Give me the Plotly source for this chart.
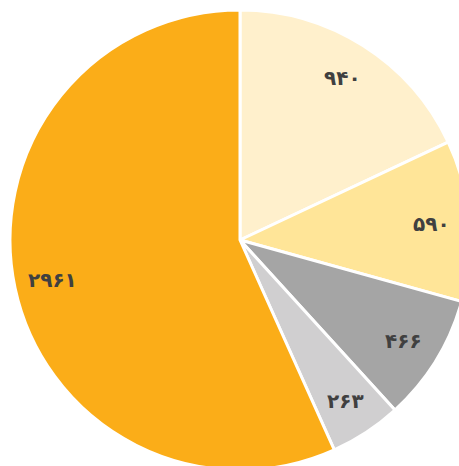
import math
import plotly.graph_objects as go

categories = ["A", "B", "C", "D", "E"]
values = [940, 590, 466, 263, 2961]
colors = ["#FFF0CC", "#FFE598", "#A5A5A5", "#D0CFD0", "#FBAD18"]

persian = str.maketrans("0123456789", "۰۱۲۳۴۵۶۷۸۹")
labels_text = [str(v).translate(persian) for v in values]

fig = go.Figure(go.Pie(
    labels=categories,
    values=values,
    textinfo="none",
    sort=False,
    direction="clockwise",
    rotation=0,
    marker=dict(colors=colors, line=dict(color="white", width=3)),
    showlegend=False,
    hoverinfo="label+value",
))

# label positions along each slice's mid-angle
W, H = 480, 470
ml, mr, mt, mb = 10, 10, 10, 0
pw, ph = W - ml - mr, H - mt - mb
r = min(pw, ph) / 2
total = sum(values)
cum = 0
frac = 0.835
for v, t in zip(values, labels_text):
    mid = (cum + v / 2) / total * 2 * math.pi
    cum += v
    x = 0.5 + frac * r * math.sin(mid) / pw
    y = 0.5 + frac * r * math.cos(mid) / ph
    fig.add_annotation(
        x=x, y=y, xref="paper", yref="paper",
        text=f"<b>{t}</b>", showarrow=False,
        font=dict(family="DejaVu Sans", size=20, color="#404040"),
        xanchor="center", yanchor="middle",
    )

fig.update_layout(
    width=W, height=H, autosize=False,
    margin=dict(l=ml, r=mr, t=mt, b=mb),
    paper_bgcolor="white",
)
fig.write_html(
    "out.html",
    config={"displayModeBar": False},
    default_width=f"{W}px",
    default_height=f"{H}px",
    post_script="document.body.style.margin='0';document.documentElement.style.overflow='hidden';",
)
